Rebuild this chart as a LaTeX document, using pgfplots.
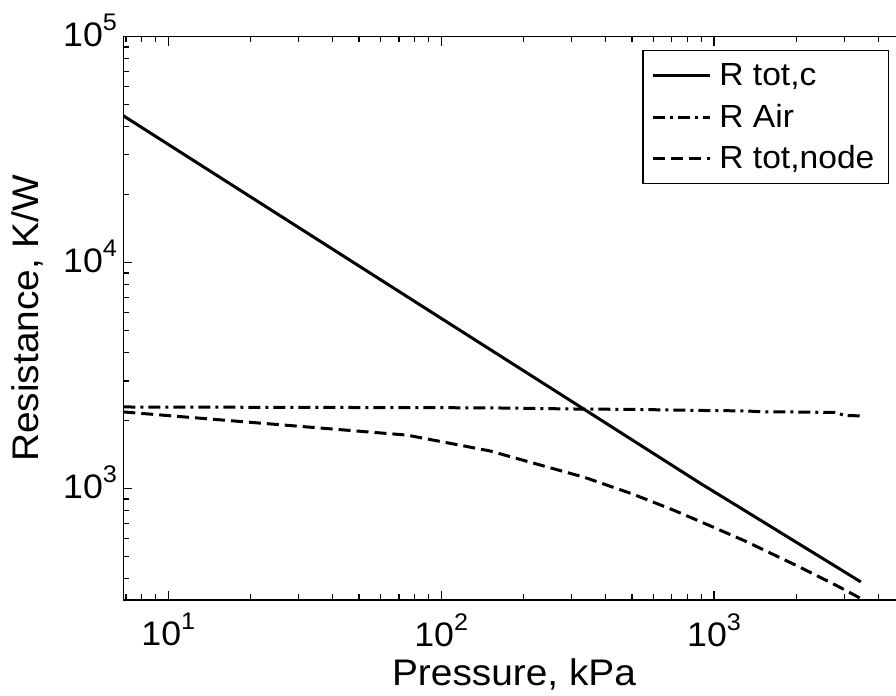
\documentclass[border=0pt]{standalone}
\usepackage{pgfplots}
\pgfplotsset{compat=1.18}
\usepackage{fontspec}
\setmainfont{Liberation Sans}[FakeStretch=1.05]
\newcommand{\tp}[1]{10\raisebox{8pt}{\fontsize{12}{14}\selectfont #1}}
\begin{document}
\begin{tikzpicture}
\begin{axis}[
  at={(0,0)}, anchor=south west,
  scale only axis, width=390.75pt, height=281.65pt,
  xmode=log, ymode=log,
  xmin=6.84, xmax=5000, ymin=322, ymax=1e5,
  xtick={10,100,1000}, xticklabels={\tp{1},\tp{2},\tp{3}},
  ytick={1000,10000,100000}, yticklabels={\tp{3},\tp{4},\tp{5}},
  minor xtick={7,8,9,20,30,40,50,60,70,80,90,200,300,400,500,600,700,800,900,2000,3000,4000},
  minor ytick={400,500,600,700,800,900,2000,3000,4000,5000,6000,7000,8000,9000,20000,30000,40000,50000,60000,70000,80000,90000},
  tick align=inside,
  major tick length=4.5pt, minor tick length=2.8pt,
  every tick/.style={black, line width=0.6pt},
  axis line style={black, line width=0.8pt},
  tick label style={font=\fontsize{17}{19}\selectfont},
  xticklabel style={inner sep=0pt, yshift=-6.5pt},
  yticklabel style={inner sep=0pt, xshift=-3pt, yshift=3.3pt},
  label style={font=\fontsize{18.5}{22}\selectfont},
  xlabel={Pressure, kPa},
  ylabel={Resistance, K/W},
  xlabel style={at={(axis description cs:0.5,-0.151)}, anchor=base},
  ylabel style={at={(axis description cs:-0.122,0.5)}, anchor=center},
  legend style={at={(0.9798,0.9764)}, anchor=north east, draw=black, line width=0.6pt,
    fill=white, font=\fontsize{16}{19}\selectfont, inner xsep=4pt, inner ysep=5.5pt,
    row sep=6.8pt, column sep=4.15pt,
    nodes={inner sep=0pt, text height=12pt, text depth=2pt}},
  legend cell align=left,
  legend image code/.code={\draw[#1] (0pt,0pt) -- (28.5pt,0pt);},
]
\addplot[black, line width=1.5pt] coordinates {
(6.84,44700) (75,7080) (150,4156) (336,2237) (500,1647) (700,1272) (889,1058)
(1300,799) (2000,580) (2800,452) (3450,387)};
\addlegendentry{R tot,c\kern3pt}
\addplot[black, line width=1.5pt, dash pattern=on 6pt off 2.5pt on 1.5pt off 2.5pt] coordinates {
(6.84,2300) (75,2285) (150,2280) (336,2250) (500,2245) (700,2230) (889,2220)
(1300,2210) (1500,2190) (2000,2185) (2800,2175) (3000,2110) (3450,2100)};
\addlegendentry{R Air\kern3pt}
\addplot[black, line width=1.5pt, dash pattern=on 6pt off 3pt] coordinates {
(6.84,2187) (75,1727) (150,1472) (336,1122) (500,950) (700,810) (889,716.5)
(1300,587) (2000,458) (2800,374) (3450,327)};
\addlegendentry{R tot,node\kern3pt}
\end{axis}
\pgfresetboundingbox
\useasboundingbox (-61.65pt,-48pt) rectangle (386.35pt,300pt);
\end{tikzpicture}
\end{document}
